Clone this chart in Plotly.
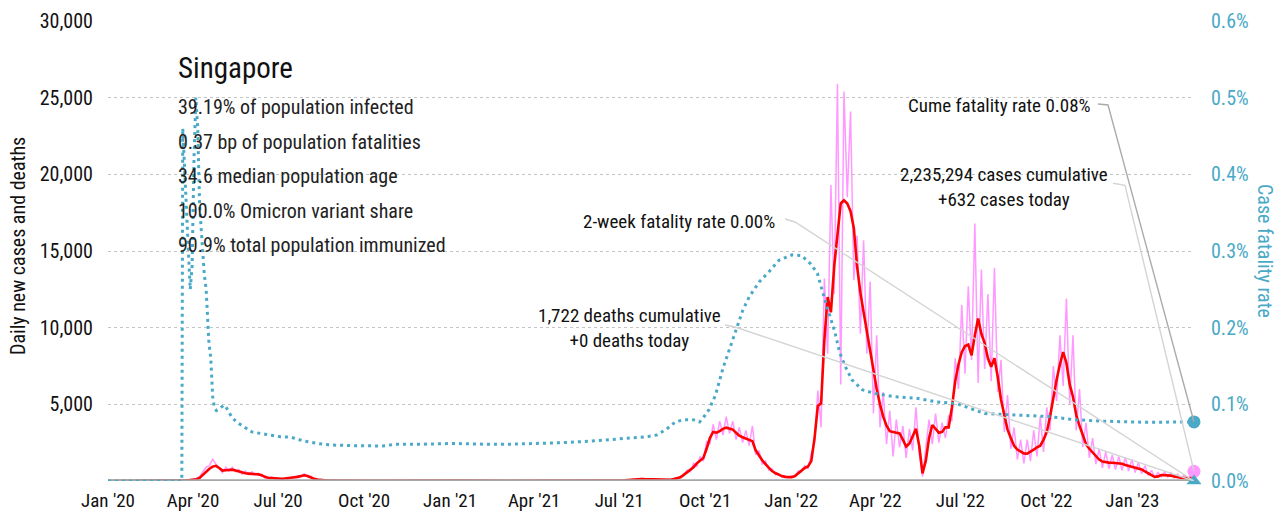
import pandas as pd
import plotly.graph_objects as go

# ---------------- data ----------------
# Daily new cases on a half-week grid (84 h steps) starting 2020-01-01
grid_start = "2020-01-01"

cases_daily = [
    0, 0, 0, 0, 0, 0, 1, 2, 4, 3, 6, 3, 2, 1, 3, 2, 5, 6, 10, 12, 15,
    20, 40, 50, 55, 70, 100, 150, 300, 600, 900,
    1000, 1420, 1100, 800, 550, 900, 650, 900, 600, 750,
    450, 650, 420, 600, 400, 500, 300, 350, 180, 250,
    150, 200, 120, 200, 140, 250, 200, 350, 300, 480,
    280, 300, 120, 110, 50, 60, 30, 40, 20, 25,
    20, 15, 16, 11, 14, 9, 12, 8, 11, 9, 10, 8, 9, 7, 9, 7, 10, 8, 11, 9,
    11, 9, 11, 9, 12, 10, 12, 11, 13, 11, 14, 13, 16, 15,
    20, 17, 24, 23, 30, 28, 32, 26, 27, 20, 22, 16, 17, 14, 16, 15, 20, 18, 24, 23,
    27, 22, 24, 20, 26, 24, 30, 28, 35, 33, 41, 37, 40, 31, 32, 26, 27, 20, 22, 18,
    24, 23, 30, 28, 32, 26, 27, 20, 22, 18, 24,
    27, 28, 45, 55, 100, 110, 160, 125, 130, 100, 110, 80, 95, 65, 80, 60,
    70, 160, 150, 320, 350, 700, 600, 1150, 950, 1600,
    1300, 2600, 2400, 3700, 2700, 3900, 3000, 4200, 3100, 3900,
    2700, 3500, 2500, 3300, 2300, 3600, 1700, 2000, 1100, 1300,
    700, 800, 400, 480, 250, 330, 200, 320, 280, 650,
    600, 1000, 800, 1800, 2500, 5900, 3500, 13200, 8300, 19300,
    12200, 25900, 6300, 25400, 18500, 24100, 13100, 16000, 9600, 15700,
    8300, 13000, 4400, 9500, 3500, 5800, 2400, 4600, 1600, 4000,
    2200, 3600, 1500, 3400, 2000, 4800, 1800, 280, 2200, 4000,
    2400, 4400, 2500, 3800, 2800, 4300, 3900, 8000, 6000, 11500,
    7000, 12700, 7900, 16800, 6400, 13800, 7300, 12200, 6500, 13900,
    5800, 7900, 3200, 5600, 2100, 3500, 1400, 2700, 1150, 2700,
    1300, 3300, 1600, 4200, 1900, 4800, 3300, 7500, 5200, 9500,
    6200, 11900, 5000, 9500, 3300, 6000, 2200, 3800, 1500, 2800,
    1100, 2100, 850, 1900, 800, 1700, 750, 1600, 700, 1550,
    650, 1400, 550, 1200, 480, 1000, 350, 700, 250, 550,
    280, 600, 260, 550, 200, 450, 170, 380, 150, 320,
    632,
]

# 7-day average of new cases on the same grid
cases_avg = [
    0, 0, 0, 0, 0, 0, 0, 1, 2, 3, 4, 4, 3, 2, 2, 2, 3, 5, 8, 10, 12,
    15, 25, 35, 45, 60, 80, 110, 200, 400, 620,
    800, 940, 990, 850, 680, 700, 740, 740, 680, 620,
    520, 500, 480, 470, 450, 430, 380, 260, 215, 190,
    160, 150, 150, 160, 170, 190, 240, 270, 330, 370,
    330, 230, 150, 90, 60, 45, 35, 30, 25, 20,
    18, 15, 15, 12, 12, 10, 10, 10, 10, 10, 9, 9, 8, 8, 8, 8, 9, 9, 10, 10,
    10, 10, 10, 10, 10, 11, 11, 12, 12, 12, 13, 14, 15, 16,
    18, 20, 22, 25, 28, 30, 30, 28, 25, 22, 20, 18, 16, 15, 15, 16, 18, 20, 22, 25,
    25, 24, 22, 22, 24, 26, 28, 30, 32, 35, 38, 40, 38, 34, 30, 28, 25, 22, 20, 20,
    22, 25, 28, 30, 30, 28, 25, 22, 20, 20, 22,
    25, 30, 40, 60, 90, 120, 140, 135, 120, 110, 100, 90, 85, 75, 70, 65,
    80, 130, 180, 240, 400, 550, 700, 900, 1150, 1300,
    1500, 2100, 2800, 3200, 3150, 3250, 3400, 3480, 3420, 3350,
    3150, 2950, 2850, 2750, 2700, 2600, 2000, 1650, 1350, 1100,
    850, 650, 520, 400, 320, 270, 250, 250, 320, 500,
    720, 850, 950, 1300, 2800, 4900, 5060, 9200, 12000, 11000,
    14000, 16200, 18100, 18300, 18100, 17600, 16500, 14000, 12300, 11000,
    9700, 8500, 7300, 6000, 5000, 4200, 3600, 3250, 3200, 3150,
    3100, 2700, 2250, 2450, 2900, 3400, 2300, 500, 1300, 2800,
    3650, 3400, 3150, 3200, 3500, 3500, 4800, 6500, 7600, 8400,
    8800, 8900, 8200, 9500, 10600, 9600, 9000, 8000, 7450, 8000,
    6800, 5300, 4200, 3350, 2800, 2300, 2050, 1900, 1800, 1780,
    1900, 2050, 2200, 2300, 2700, 3200, 4200, 5500, 6600, 7600,
    8400, 7700, 6300, 5500, 4300, 3600, 3000, 2400, 2100, 1850,
    1600, 1400, 1270, 1220, 1200, 1190, 1170, 1150, 1130, 1050,
    980, 920, 860, 800, 750, 620, 480, 380, 260, 300,
    390, 380, 360, 350, 300, 250, 215, 200, 180, 175,
    600,
]

# Daily deaths (monthly averages), last entry is the latest day
deaths_dates = list(pd.date_range("2020-01-01", "2023-03-01", freq="MS").strftime("%Y-%m-%d")) + ["2023-03-08"]
deaths_daily = [
    0, 0, 0.06, 0.4, 0.3, 0.1, 0.03, 0, 0, 0.03, 0, 0.03,
    0, 0, 0.03, 0.03, 0.06, 0.07, 0.3, 0.8, 1.8, 8.4, 13, 3.5,
    1.2, 5.7, 10, 4, 1, 1, 3, 3, 1.7, 2, 1.3, 0.6,
    0.3, 0.2, 0.1, 0,
]

# Cumulative case fatality rate, percent
cfr_dates = [
    "2020-01-01", "2020-03-20", "2020-03-21", "2020-03-23", "2020-03-25", "2020-03-27",
    "2020-03-29", "2020-03-31", "2020-04-01", "2020-04-02", "2020-04-04", "2020-04-06",
    "2020-04-08", "2020-04-10", "2020-04-13", "2020-04-15", "2020-04-18", "2020-04-20",
    "2020-04-22", "2020-04-24", "2020-04-26", "2020-04-29", "2020-05-02", "2020-05-04",
    "2020-05-06", "2020-05-09", "2020-05-13", "2020-05-20", "2020-05-27", "2020-06-03",
    "2020-06-17", "2020-07-01", "2020-07-15", "2020-07-29", "2020-08-12", "2020-08-26",
    "2020-09-23", "2020-10-21", "2020-11-04", "2020-12-02", "2021-01-06", "2021-02-05",
    "2021-03-07", "2021-04-06", "2021-05-01", "2021-06-01", "2021-07-01", "2021-07-15",
    "2021-08-01", "2021-08-10", "2021-08-20", "2021-08-30", "2021-09-08", "2021-09-18",
    "2021-09-25", "2021-10-01", "2021-10-05", "2021-10-12", "2021-10-20", "2021-10-27",
    "2021-11-03", "2021-11-10", "2021-11-17", "2021-11-28", "2021-12-09", "2021-12-19",
    "2022-01-02", "2022-01-12", "2022-01-22", "2022-01-29", "2022-02-04", "2022-02-10",
    "2022-02-17", "2022-02-22", "2022-02-28", "2022-03-07", "2022-03-18", "2022-04-01",
    "2022-04-22", "2022-05-15", "2022-06-06", "2022-06-27", "2022-07-12", "2022-07-27",
    "2022-08-30", "2022-10-05", "2022-10-30", "2022-12-01", "2023-01-15", "2023-03-08",
]
cfr_pct = [
    0, 0, 0.46, 0.40, 0.35, 0.30,
    0.25, 0.28, 0.35, 0.42, 0.50, 0.46,
    0.36, 0.32, 0.27, 0.25, 0.18, 0.16,
    0.11, 0.095, 0.092, 0.094, 0.097, 0.099,
    0.097, 0.090, 0.082, 0.075, 0.069, 0.064,
    0.061, 0.058, 0.057, 0.052, 0.049, 0.047,
    0.046, 0.0457, 0.048, 0.048, 0.049, 0.048,
    0.048, 0.049, 0.050, 0.052, 0.055, 0.056,
    0.058, 0.060, 0.067, 0.077, 0.080, 0.080,
    0.077, 0.086, 0.093, 0.112, 0.147, 0.172,
    0.198, 0.222, 0.240, 0.260, 0.274, 0.288,
    0.295, 0.294, 0.283, 0.271, 0.245, 0.220,
    0.193, 0.167, 0.149, 0.132, 0.119, 0.114,
    0.110, 0.108, 0.103, 0.101, 0.094, 0.088,
    0.086, 0.084, 0.080, 0.078, 0.0766, 0.077,
]

two_week_cfr_pct = 0.0
last_date = "2023-03-08"
cases_cumulative = 2235294
deaths_cumulative = 1722
deaths_today = 0

stats_lines = [
    "39.19% of population infected",
    "0.37 bp of population fatalities",
    "34.6 median population age",
    "100.0% Omicron variant share",
    "90.9% total population immunized",
]
country = "Singapore"

x_tick_dates = list(pd.date_range("2020-01-01", "2023-01-01", freq="QS").strftime("%Y-%m-%d"))
x_tick_text = [pd.Timestamp(d).strftime("%b '%y") for d in x_tick_dates]
y_tick_vals = [5000, 10000, 15000, 20000, 25000, 30000]
y2_tick_vals = [0.0, 0.1, 0.2, 0.3, 0.4, 0.5, 0.6]

# ---------------- styling ----------------
FONT = "Roboto Condensed, Liberation Sans Narrow, sans-serif"
TEAL = "#4aa9c6"
PINK = "#ff99ff"
RED = "#ff0000"
GREY = "#a6a6a6"

grid_dates = pd.date_range(grid_start, periods=len(cases_daily), freq="84h")

fig = go.Figure()

fig.add_trace(go.Scatter(x=grid_dates, y=cases_daily, mode="lines",
                         line=dict(color=PINK, width=1.5), yaxis="y",
                         name="Daily new cases"))
fig.add_trace(go.Scatter(x=grid_dates, y=cases_avg, mode="lines",
                         line=dict(color=RED, width=2.6), yaxis="y",
                         name="7-day average"))
fig.add_trace(go.Scatter(x=deaths_dates, y=deaths_daily, mode="lines",
                         line=dict(color=GREY, width=3.5), yaxis="y",
                         name="Daily deaths", cliponaxis=False))
fig.add_trace(go.Scatter(x=cfr_dates, y=cfr_pct, mode="lines",
                         line=dict(color=TEAL, width=3, dash="3px,4px"),
                         yaxis="y2", name="Cumulative fatality rate"))

# end-of-series markers
fig.add_trace(go.Scatter(x=[last_date], y=[cases_daily[-1]], mode="markers", yaxis="y",
                         marker=dict(color=PINK, size=13), cliponaxis=False, showlegend=False))
fig.add_trace(go.Scatter(x=[last_date], y=[cfr_pct[-1]], mode="markers", yaxis="y2",
                         marker=dict(color=TEAL, size=13), cliponaxis=False, showlegend=False))
fig.add_trace(go.Scatter(x=[last_date], y=[two_week_cfr_pct], mode="markers", yaxis="y2",
                         marker=dict(color=TEAL, size=13, symbol="triangle-up"),
                         cliponaxis=False, showlegend=False))

annotations = []
# country title and stats block
annotations.append(dict(text=country, xref="paper", yref="paper", x=0.0626, y=0.898,
                        xanchor="left", yanchor="middle", showarrow=False,
                        font=dict(family=FONT, size=29, color="#111")))
for i, line in enumerate(stats_lines):
    annotations.append(dict(text=line, xref="paper", yref="paper", x=0.0626,
                            y=0.813 - i * 0.0752, xanchor="left", yanchor="middle",
                            showarrow=False, font=dict(family=FONT, size=20, color="#222")))

label_font = dict(family=FONT, size=19, color="#111")
# labelled end values, text offset from the point they describe
annotations.append(dict(text=f"Cume fatality rate {cfr_pct[-1]:.2f}%", x=last_date, y=cfr_pct[-1],
                        xref="x", yref="y2", xanchor="right", yanchor="middle",
                        xshift=-101, yshift=316, showarrow=False, font=label_font))
annotations.append(dict(text=f"{cases_cumulative:,} cases cumulative<br>+{cases_daily[-1]:,} cases today",
                        x=last_date, y=cases_daily[-1], xref="x", yref="y",
                        xanchor="center", yanchor="middle", align="center",
                        xshift=-190, yshift=284, showarrow=False, font=label_font))
annotations.append(dict(text=f"2-week fatality rate {two_week_cfr_pct:.2f}%", x=last_date,
                        y=two_week_cfr_pct, xref="x", yref="y2", xanchor="right",
                        yanchor="middle", xshift=-417, yshift=260, showarrow=False,
                        font=label_font))
annotations.append(dict(text=f"{deaths_cumulative:,} deaths cumulative<br>+{deaths_today} deaths today",
                        x=last_date, y=deaths_daily[-1], xref="x", yref="y",
                        xanchor="center", yanchor="middle", align="center",
                        xshift=-565, yshift=153, showarrow=False, font=label_font))
# axis titles
annotations.append(dict(text="Daily new cases and deaths", xref="paper", yref="paper",
                        x=-0.0829, y=0.511, textangle=-90, showarrow=False,
                        xanchor="center", yanchor="middle",
                        font=dict(family=FONT, size=20, color="#111")))
annotations.append(dict(text="Case fatality rate", xref="paper", yref="paper", x=1.0654, y=0.5,
                        textangle=90, showarrow=False, xanchor="center", yanchor="middle",
                        font=dict(family=FONT, size=20, color=TEAL)))


def leader(anchor_x, anchor_y, yref, path, color):
    return dict(type="path", xref="x", yref=yref, xsizemode="pixel", ysizemode="pixel",
                xanchor=anchor_x, yanchor=anchor_y, path=path,
                line=dict(color=color, width=1.4), layer="above")


shapes = [
    leader(last_date, cfr_pct[-1], "y2", "M-96,318 L-86,317 L0,0", "#ababab"),
    leader(last_date, cases_daily[-1], "y", "M-81,288 L-69,286 L0,0", "#d4d4d4"),
    leader(last_date, two_week_cfr_pct, "y2", "M-409,262 L-399,259 L0,0", "#d4d4d4"),
    leader(last_date, deaths_daily[-1], "y", "M-469,156 L-459,154 L0,0", "#d4d4d4"),
]

fig.update_layout(
    width=1278, height=518,
    margin=dict(l=108, r=84, t=21, b=37),
    paper_bgcolor="white", plot_bgcolor="white",
    showlegend=False,
    font=dict(family=FONT, size=19, color="#111"),
    annotations=annotations,
    shapes=shapes,
    xaxis=dict(range=["2020-01-01", last_date], tickvals=x_tick_dates, ticktext=x_tick_text,
               showgrid=False, zeroline=False, showline=False, ticks="", automargin=False,
               tickfont=dict(family=FONT, size=19, color="#111"), ticklabelstandoff=6),
    yaxis=dict(range=[0, 30000], tickvals=y_tick_vals,
               ticktext=[f"{v:,}" for v in y_tick_vals],
               showgrid=True, gridcolor="#c4c4c4", griddash="dot", gridwidth=1,
               zeroline=False, showline=False, ticks="", automargin=False,
               tickfont=dict(family=FONT, size=20, color="#111"), ticklabelstandoff=14),
    yaxis2=dict(range=[0, 0.6], overlaying="y", side="right", tickvals=y2_tick_vals,
                ticktext=[f"{v:.1f}%" for v in y2_tick_vals],
                showgrid=False, zeroline=False, showline=False, ticks="", automargin=False,
                tickfont=dict(family=FONT, size=20, color=TEAL), ticklabelstandoff=16),
)

fig.write_html("out.html")
